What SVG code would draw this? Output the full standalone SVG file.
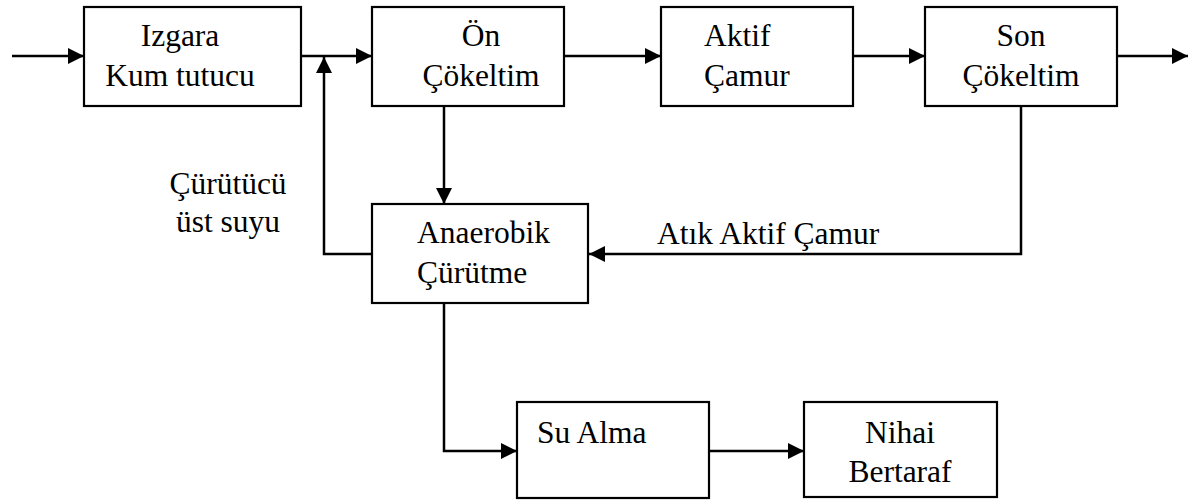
<svg xmlns="http://www.w3.org/2000/svg" width="1189" height="501" viewBox="0 0 1189 501">
  <style>
    .box { fill: #ffffff; stroke: #000000; stroke-width: 2.2; }
    .lbl { font-family: "Liberation Serif", "Times New Roman", Times, serif; font-size: 31.5px; fill: #000000; }
    .mid { text-anchor: middle; }
    .wire { fill: none; stroke: #000000; stroke-width: 2.5; marker-end: url(#arrow); }
  </style>
  <defs>
    <marker id="arrow" markerUnits="userSpaceOnUse" markerWidth="18" markerHeight="18" refX="16" refY="8" orient="auto">
      <path d="M0,0 L16,8 L0,16 z" fill="#000000"/>
    </marker>
  </defs>
  <rect width="1189" height="501" fill="#ffffff"/>

  <!-- connectors -->
  <g id="connectors">
    <path class="wire" d="M12,56 L84,56"/>
    <path class="wire" d="M301,56 L372,56"/>
    <path class="wire" d="M564,56 L661,56"/>
    <path class="wire" d="M853,56 L925,56"/>
    <path class="wire" d="M1117,56 L1188,56"/>
    <path class="wire" d="M444,106 L444,204"/>
    <path class="wire" d="M1021,106 L1021,254 L589,254"/>
    <path class="wire" d="M372,254 L324,254 L324,57"/>
    <path class="wire" d="M444,303 L444,451 L517,451"/>
    <path class="wire" d="M709,451 L804,451"/>
  </g>

  <!-- process units -->
  <g id="izgara">
    <rect class="box" x="84" y="7" width="217" height="99"/>
    <text class="lbl mid" x="180" y="46">Izgara</text>
    <text class="lbl mid" x="180" y="86">Kum tutucu</text>
  </g>
  <g id="on-cokeltim">
    <rect class="box" x="372" y="7" width="192" height="99"/>
    <text class="lbl mid" x="481" y="46">Ön</text>
    <text class="lbl mid" x="481" y="86">Çökeltim</text>
  </g>
  <g id="aktif-camur">
    <rect class="box" x="661" y="7" width="192" height="99"/>
    <text class="lbl" x="704" y="46">Aktif</text>
    <text class="lbl" x="704" y="86">Çamur</text>
  </g>
  <g id="son-cokeltim">
    <rect class="box" x="925" y="7" width="192" height="99"/>
    <text class="lbl mid" x="1021" y="46">Son</text>
    <text class="lbl mid" x="1021" y="86">Çökeltim</text>
  </g>
  <g id="anaerobik">
    <rect class="box" x="372" y="204" width="216" height="99"/>
    <text class="lbl" x="417" y="243">Anaerobik</text>
    <text class="lbl" x="417" y="283">Çürütme</text>
  </g>
  <g id="su-alma">
    <rect class="box" x="517" y="402" width="192" height="96"/>
    <text class="lbl" x="537" y="443">Su Alma</text>
  </g>
  <g id="nihai">
    <rect class="box" x="804" y="402" width="193" height="95"/>
    <text class="lbl mid" x="900" y="443">Nihai</text>
    <text class="lbl mid" x="900" y="482">Bertaraf</text>
  </g>

  <!-- flow labels -->
  <g id="labels">
    <text class="lbl mid" x="228" y="194">Çürütücü</text>
    <text class="lbl mid" x="228" y="232">üst suyu</text>
    <text class="lbl" x="657" y="244">Atık Aktif Çamur</text>
  </g>
</svg>
